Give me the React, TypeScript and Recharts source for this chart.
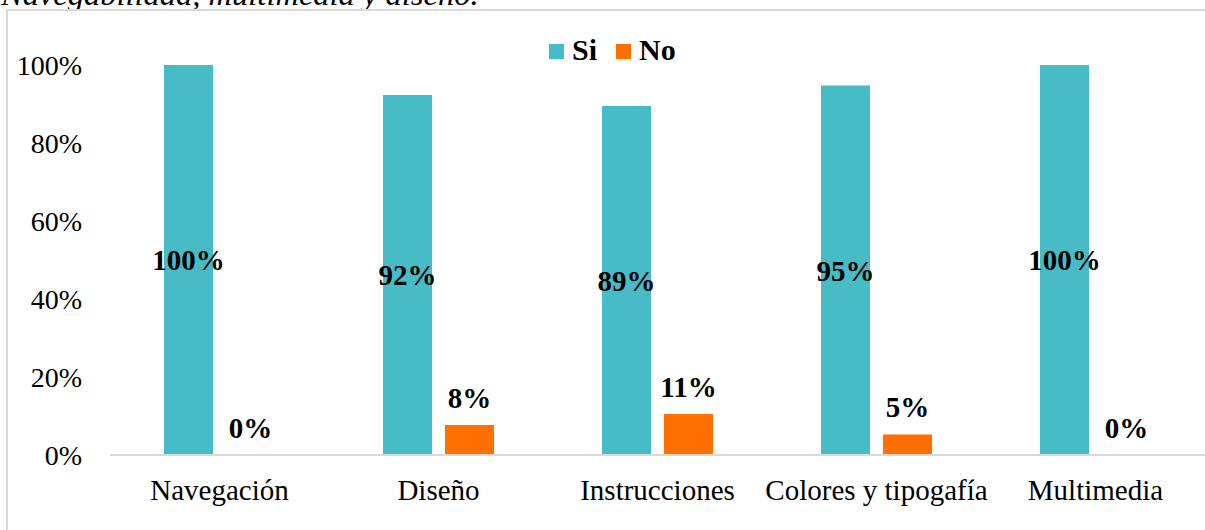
import React from "react";
import { BarChart, Bar, XAxis, YAxis, Legend, LabelList } from "recharts";

const categories = ["Navegación", "Diseño", "Instrucciones", "Colores y tipogafía", "Multimedia"];
const siValues = [100, 92.3, 89.47, 94.74, 100];
const noValues = [0, 7.7, 10.53, 5.26, 0];
const yTicks = [0, 20, 40, 60, 80, 100];

const data = categories.map((name, i) => ({ name, Si: siValues[i], No: noValues[i] }));

const SI_COLOR = "#48BCC6";
const NO_COLOR = "#FF7000";
const FONT = "'Liberation Serif', 'Times New Roman', serif";

const fmt = (v: any) => `${Math.round(Number(v))}%`;

const renderLegend = () => (
  <svg width={140} height={40} style={{ display: "block" }}>
    <rect x={0} y={14} width={15} height={15} fill={SI_COLOR} />
    <text x={23} y={30} fontFamily={FONT} fontWeight="bold" fontSize={30} fill="#000">Si</text>
    <rect x={67} y={14} width={15} height={15} fill={NO_COLOR} />
    <text x={90} y={30} fontFamily={FONT} fontWeight="bold" fontSize={30} fill="#000">No</text>
  </svg>
);

export default function App() {
  return (
    <div style={{ position: "absolute", left: 0, top: 0, width: 1205, height: 530, overflow: "hidden", background: "#fff" }}>
      <div
        style={{
          position: "absolute",
          left: 1,
          top: -22,
          fontFamily: FONT,
          fontStyle: "italic",
          fontSize: 32.5,
          lineHeight: "32.5px",
          whiteSpace: "nowrap",
          color: "#000",
        }}
      >
        Navegabilidad, multimedia y diseño.
      </div>
      <div
        style={{
          position: "absolute",
          left: 6,
          top: 9,
          width: 1300,
          height: 600,
          borderLeft: "2px solid #d9d9d9",
          borderTop: "2px solid #d9d9d9",
          background: "#fff",
        }}
      />
      <div style={{ position: "absolute", left: 0, top: 0 }}>
        <BarChart
          width={1205}
          height={530}
          data={data}
          margin={{ top: 65, right: 0, left: 10, bottom: 15 }}
          barSize={49}
          barGap={13}
        >
          <XAxis
            dataKey="name"
            height={60}
            tickLine={false}
            tickMargin={18}
            axisLine={{ stroke: "#d9d9d9", strokeWidth: 2 }}
            tick={{ fontFamily: FONT, fontSize: 29, fill: "#000" }}
            interval={0}
          />
          <YAxis
            width={100}
            domain={[0, 100]}
            ticks={yTicks}
            tickFormatter={(v: any) => `${v}%`}
            axisLine={false}
            tickLine={false}
            tickMargin={22}
            tick={{ fontFamily: FONT, fontSize: 28, fill: "#000" }}
          />
          <Legend
            layout="horizontal"
            verticalAlign="middle"
            align="center"
            content={renderLegend}
            wrapperStyle={{ left: 549, top: 30, width: 140, height: 40 }}
          />
          <Bar dataKey="Si" fill={SI_COLOR} isAnimationActive={false}>
            <LabelList
              dataKey="Si"
              position="center"
              formatter={fmt}
              style={{ fontFamily: FONT, fontSize: 29, fontWeight: "bold", fill: "#000" }}
            />
          </Bar>
          <Bar dataKey="No" fill={NO_COLOR} minPointSize={0.01} isAnimationActive={false}>
            <LabelList
              dataKey="No"
              position="top"
              offset={17}
              formatter={fmt}
              style={{ fontFamily: FONT, fontSize: 29, fontWeight: "bold", fill: "#000" }}
            />
          </Bar>
        </BarChart>
      </div>
    </div>
  );
}
